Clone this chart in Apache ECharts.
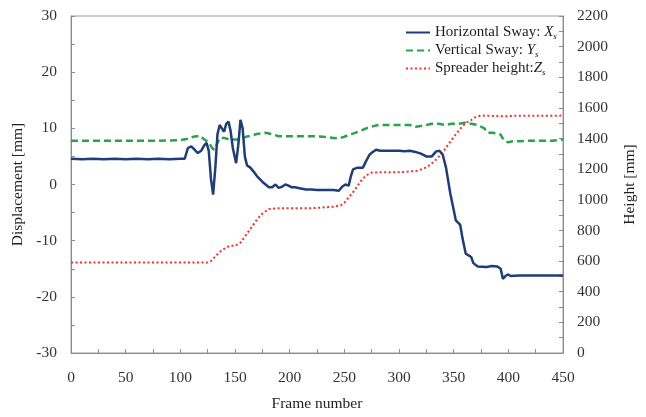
<!DOCTYPE html>
<html><head><meta charset="utf-8">
<script src="https://cdn.jsdelivr.net/npm/echarts@6/dist/echarts.min.js"></script>
<style>html,body{margin:0;padding:0;background:#fff}#c{width:646px;height:417px}</style>
</head><body><div id="c"></div>
<script>
// Horizontal sway X_s [mm]
const hFrames = [0,10,20,30,40,50,60,70,80,90,100,104,107,110,113,116,119,122,124,126,128,130,132,134,136,138,140,142,144,146,148,151,153,155,157,159,161,164,167,170,173,176,178,181,184,187,190,193,196,199,202,205,210,215,220,225,230,235,240,245,248,251,254,256,258,262,267,270,273,276,279,283,290,300,305,310,315,320,325,330,334,337,340,343,347,350,352,356,358,361,366,368,372,380,385,390,393,395,398,400,402,410,420,430,440,450];
const hValues = [4.6,4.5,4.6,4.5,4.6,4.5,4.6,4.5,4.6,4.5,4.6,4.6,6.5,6.8,6.2,5.6,6.0,7.0,7.4,6.0,1.0,-1.8,3.0,9.0,10.6,10.0,9.4,10.8,11.2,9.5,6.5,3.8,7.0,11.5,10.0,5.0,3.4,3.0,2.3,1.5,0.9,0.3,0.0,-0.5,-0.5,0.0,-0.6,-0.4,0.0,-0.2,-0.5,-0.5,-0.7,-0.9,-0.9,-1.0,-1.0,-1.0,-1.0,-1.1,-0.4,0.0,-0.2,1.5,2.7,3.0,3.0,4.2,5.3,5.8,6.2,6.0,6.0,6.0,5.9,6.0,5.8,5.5,5.0,5.0,5.9,6.0,5.3,3.0,-1.7,-4.5,-6.4,-7.2,-9.5,-12.3,-12.9,-14.0,-14.6,-14.7,-14.5,-14.6,-15.0,-16.8,-16.2,-16.0,-16.3,-16.2,-16.2,-16.2,-16.2,-16.2];
// Vertical sway Y_s [mm]
const vFrames = [0,20,40,60,80,100,108,112,118,122,126,129,131,133,136,140,145,150,155,160,165,170,178,185,190,200,210,220,230,240,245,250,255,260,265,270,275,281,290,300,310,315,320,325,330,336,342,348,355,360,366,372,378,381,386,390,393,396,400,405,410,420,430,440,450];
const vValues = [7.8,7.8,7.8,7.8,7.8,7.9,8.2,8.5,8.7,8.0,7.5,6.5,6.2,7.0,8.3,8.3,8.0,8.0,8.0,8.5,8.7,9.0,9.2,8.9,8.6,8.6,8.6,8.6,8.5,8.3,8.2,8.5,8.9,9.2,9.6,10.0,10.3,10.6,10.6,10.6,10.6,10.3,10.4,10.6,10.8,10.8,10.6,10.8,10.8,11.0,10.8,10.6,10.0,9.2,9.2,9.0,8.9,7.8,7.5,7.8,7.7,7.8,7.8,7.8,8.0];
// Spreader height Z_s [mm]
const zFrames = [0,50,100,125,128,132,136,140,145,150,155,160,165,170,175,181,190,200,210,220,230,240,247,250,254,258,262,266,270,275,285,295,305,317,323,329,335,341,347,353,358,362,366,370,375,385,395,405,420,435,450];
const zValues = [590,590,590,590,600,630,660,680,700,700,720,770,820,870,910,940,945,945,945,945,950,955,965,980,1016,1050,1090,1130,1160,1178,1180,1180,1182,1190,1205,1230,1270,1320,1380,1437,1480,1505,1521,1540,1550,1548,1545,1548,1548,1548,1550];

const xTicks = [0,450,50];
const leftTicks = [-30,30,10];
const rightTicks = [0,2200,200];

const pair = (f, v) => f.map((x, i) => [x, v[i]]);
const FONT = '"Liberation Serif","Times New Roman",serif';
const axisCommon = {
  axisLine: {show: true, onZero: false, lineStyle: {color: '#8c8c8c', width: 1}},
  axisTick: {show: true, inside: true, length: 4, lineStyle: {color: '#8c8c8c'}},
  minorTick: {show: true, splitNumber: 2, length: 4, lineStyle: {color: '#8c8c8c'}},
  splitLine: {show: false},
  axisLabel: {fontFamily: FONT, fontSize: 15.5, color: '#333', margin: 14, formatter: v => String(v)},
  nameTextStyle: {fontFamily: FONT, fontSize: 15.5, color: '#222'}
};
const rich = {
  n: {fontFamily: FONT, fontSize: 15, color: '#222', height: 17},
  i: {fontFamily: FONT, fontSize: 15, fontStyle: 'italic', color: '#222', height: 17},
  s: {fontFamily: FONT, fontSize: 9, fontStyle: 'italic', color: '#222', verticalAlign: 'bottom', padding: [7, 0, 0, 0]}
};
const legendLabels = {
  'Horizontal Sway': ['Horizontal Sway: ', 'X'],
  'Vertical Sway': ['Vertical Sway: ', 'Y'],
  'Spreader height': ['Spreader height:', 'Z']
};
const chart = echarts.init(document.getElementById('c'));
chart.setOption({
  animation: false,
  backgroundColor: '#fff',
  grid: {left: 71, right: 80, top: 16, bottom: 60, containLabel: false,
         show: true, borderColor: '#9a9a9a', borderWidth: 1},
  legend: {
    orient: 'vertical', left: 400, top: 20, itemGap: 2, itemWidth: 24, itemHeight: 10,
    itemStyle: {opacity: 0},
    textStyle: {rich: rich},
    formatter: name => `{n|${legendLabels[name][0]}}{i|${legendLabels[name][1]}}{s|s}`,
    data: ['Horizontal Sway', 'Vertical Sway', 'Spreader height']
  },
  xAxis: Object.assign({}, axisCommon, {
    type: 'value', min: xTicks[0], max: xTicks[1], interval: xTicks[2],
    name: 'Frame number', nameLocation: 'middle', nameGap: 43,
    axisLabel: Object.assign({}, axisCommon.axisLabel, {margin: 17})
  }),
  yAxis: [
    Object.assign({}, axisCommon, {
      type: 'value', min: leftTicks[0], max: leftTicks[1], interval: leftTicks[2], position: 'left',
      name: 'Displacement [mm]', nameLocation: 'middle', nameGap: 37, nameRotate: 90
    }),
    Object.assign({}, axisCommon, {
      type: 'value', min: rightTicks[0], max: rightTicks[1], interval: rightTicks[2], position: 'right',
      name: 'Height [mm]', nameLocation: 'middle', nameGap: 59, nameRotate: 90
    })
  ],
  series: [
    {name: 'Horizontal Sway', type: 'line', yAxisIndex: 0, symbol: 'none', data: pair(hFrames, hValues),
     lineStyle: {color: '#1f3d7a', width: 2.5}, itemStyle: {color: '#1f3d7a'}, z: 4},
    {name: 'Vertical Sway', type: 'line', yAxisIndex: 0, symbol: 'none', data: pair(vFrames, vValues),
     lineStyle: {color: '#2ba24c', width: 2.5, type: [7, 4]}, itemStyle: {color: '#2ba24c'}, z: 3},
    {name: 'Spreader height', type: 'line', yAxisIndex: 1, symbol: 'none', data: pair(zFrames, zValues),
     lineStyle: {color: '#ff2a2a', width: 2, type: [2, 2.5]}, itemStyle: {color: '#ff2a2a'}, z: 2}
  ]
});
</script></body></html>
